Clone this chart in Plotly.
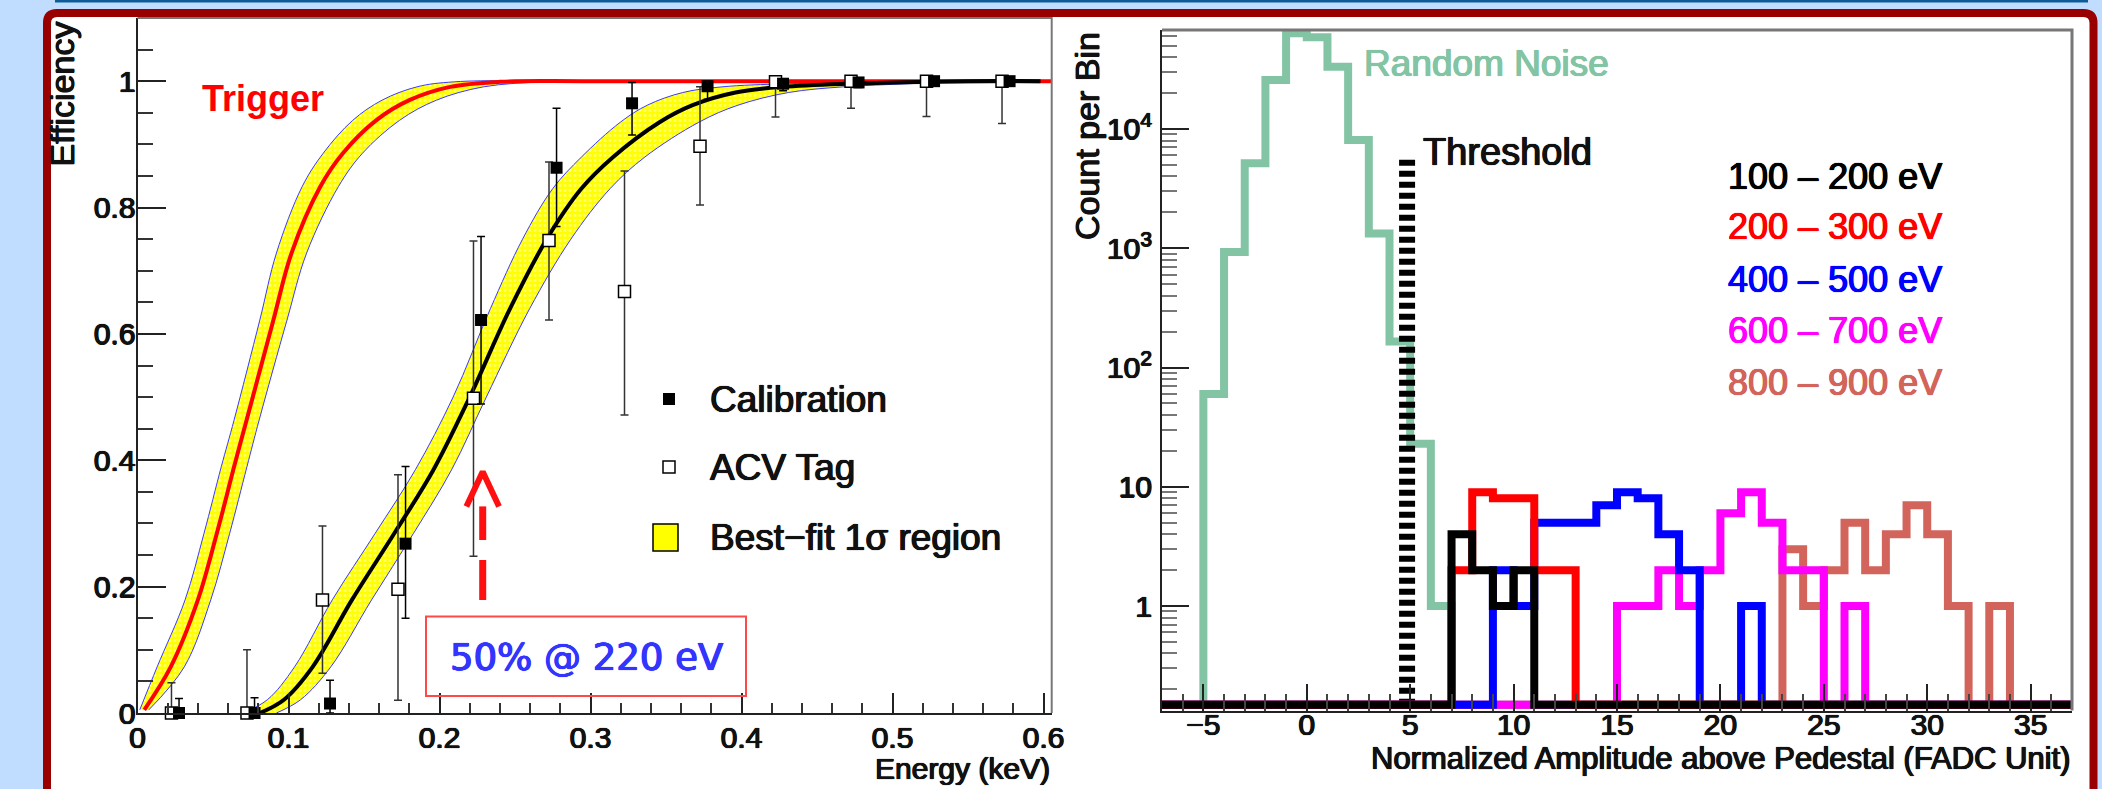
import plotly.graph_objects as go

W, H = 2102, 789


def fx(x):
    """pixel column -> paper fraction"""
    return x / W


def fy(y):
    """pixel row (from top) -> paper fraction"""
    return 1 - y / H


# ---------------- Efficiency panel data ----------------
cal_E = [0.0275, 0.0775, 0.1275, 0.1775, 0.2275, 0.2775, 0.3275, 0.3775, 0.4275, 0.4775, 0.5275, 0.5775]
cal_eff = [0.0, 0.0, 0.015, 0.268, 0.622, 0.863, 0.965, 0.992, 0.996, 0.998, 1.0, 1.0]
cal_hi = [0.023, 0.024, 0.052, 0.390, 0.754, 0.957, 0.998, 1.0, 1.0, 1.0, 1.0, 1.0]
cal_lo = [0.0, 0.0, 0.0, 0.150, 0.489, 0.770, 0.915, 0.9715, 0.985, 0.990, 0.995, 0.995]

acv_E = [0.0225, 0.0725, 0.1225, 0.1725, 0.2225, 0.2725, 0.3225, 0.3725, 0.4225, 0.4725, 0.5225, 0.5725]
acv_eff = [0.0, 0.0, 0.179, 0.196, 0.498, 0.748, 0.667, 0.897, 0.999, 1.0, 1.0, 1.0]
acv_hi = [0.048, 0.100, 0.296, 0.377, 0.747, 0.872, 0.858, 0.991, 1.0, 1.0, 1.0, 1.0]
acv_lo = [0.0, 0.0, 0.063, 0.020, 0.248, 0.622, 0.4715, 0.804, 0.9435, 0.957, 0.944, 0.933]

# trigger efficiency curve and its 1-sigma band (half width in energy)
trig_E = [0.0045, 0.022, 0.040, 0.0525, 0.064, 0.0723, 0.090, 0.102, 0.121, 0.136, 0.158, 0.180, 0.207, 0.240, 0.300, 0.605]
trig_eff = [0.005, 0.073, 0.179, 0.284, 0.390, 0.464, 0.622, 0.728, 0.833, 0.886, 0.938, 0.970, 0.991, 0.999, 1.0, 1.0]
trig_dE = [0.003, 0.009, 0.0085, 0.0085, 0.0085, 0.0083, 0.009, 0.010, 0.012, 0.013, 0.0155, 0.018, 0.022, 0.030, 0.0, 0.0]

# best-fit analysis efficiency curve (50% at 220 eV) and its 1-sigma band
fit_E = [0.081, 0.097, 0.116, 0.142, 0.170, 0.196, 0.220, 0.2467, 0.271, 0.294, 0.315, 0.3457, 0.3676, 0.396, 0.427, 0.471, 0.550, 0.598]
fit_eff = [0.0, 0.021, 0.073, 0.179, 0.284, 0.385, 0.500, 0.640, 0.750, 0.830, 0.880, 0.935, 0.962, 0.982, 0.991, 0.996, 1.0, 1.0]
fit_dE = [0.011, 0.011, 0.012, 0.013, 0.0127, 0.012, 0.011, 0.013, 0.016, 0.019, 0.021, 0.026, 0.030, 0.035, 0.040, 0.040, 0.0, 0.0]

thr50_E = 0.2286      # arrow marking the 50% point
thr50_tip = 0.382
thr50_tail = 0.179

# ---------------- Amplitude spectrum data ----------------
bin_lo = list(range(-7, 37))
bin_hi_edge = 37
noise = [0, 0, 60, 930, 5150, 25800, 63600, 58700, 33300, 8100, 1330, 165, 23, 1,
         0, 0, 0, 0, 0, 0, 0, 0, 0, 0, 0, 0, 0, 0, 0, 0, 0, 0, 0, 0, 0, 0, 0, 0, 0, 0, 0, 0, 0, 0]
e100_200 = [0, 0, 0, 0, 0, 0, 0, 0, 0, 0, 0, 0, 0, 0,
            4, 2, 1, 2, 0, 0, 0, 0, 0, 0, 0, 0, 0, 0, 0, 0, 0, 0, 0, 0, 0, 0, 0, 0, 0, 0, 0, 0, 0, 0]
e200_300 = [0, 0, 0, 0, 0, 0, 0, 0, 0, 0, 0, 0, 0, 0,
            2, 9, 8, 8, 2, 2, 0, 0, 0, 0, 0, 0, 0, 0, 0, 0, 0, 0, 0, 0, 0, 0, 0, 0, 0, 0, 0, 0, 0, 0]
e400_500 = [0, 0, 0, 0, 0, 0, 0, 0, 0, 0, 0, 0, 0, 0,
            0, 0, 2, 1, 5, 5, 5, 7, 9, 8, 4, 2, 0, 0, 1, 0, 0, 0, 0, 0, 0, 0, 0, 0, 0, 0, 0, 0, 0, 0]
e600_700 = [0, 0, 0, 0, 0, 0, 0, 0, 0, 0, 0, 0, 0, 0,
            0, 0, 0, 0, 0, 0, 0, 0, 1, 1, 2, 1, 2, 6, 9, 5, 2, 2, 0, 1, 0, 0, 0, 0, 0, 0, 0, 0, 0, 0]
e800_900 = [0, 0, 0, 0, 0, 0, 0, 0, 0, 0, 0, 0, 0, 0,
            0, 0, 0, 0, 0, 0, 0, 0, 0, 0, 0, 0, 0, 0, 0, 0, 3, 1, 2, 5, 2, 4, 7, 4, 1, 0, 1, 0, 0, 0]
threshold_x = 4.85
threshold_top = 6000
zero_floor = 0.149     # empty bins are drawn on the bottom of the log frame

FONT = "Liberation Sans"
INK = "#111111"
fig = go.Figure()

# ---- trigger band + curve ----
trig_left = [e - d for e, d in zip(trig_E, trig_dE)]
trig_right = [e + d for e, d in zip(trig_E, trig_dE)]
band_style = dict(fill="toself", fillcolor="#ffff00",
                  fillpattern=dict(shape=".", bgcolor="#ffff00", fgcolor="#ffffff", size=5, solidity=0.25),
                  line=dict(width=0), mode="lines", line_shape="spline", hoverinfo="skip",
                  showlegend=False, xaxis="x", yaxis="y")
fig.add_trace(go.Scatter(x=trig_left + trig_right[::-1], y=trig_eff + trig_eff[::-1], **band_style))
fit_left = [e - d for e, d in zip(fit_E, fit_dE)]
fit_right = [e + d for e, d in zip(fit_E, fit_dE)]
fig.add_trace(go.Scatter(x=fit_left + fit_right[::-1], y=fit_eff + fit_eff[::-1], **band_style))
for xs, ys in [(trig_left, trig_eff), (trig_right, trig_eff), (fit_left, fit_eff), (fit_right, fit_eff)]:
    fig.add_trace(go.Scatter(x=xs, y=ys, mode="lines", line=dict(color="#3a3aff", width=1, shape="spline"),
                             showlegend=False, hoverinfo="skip", xaxis="x", yaxis="y"))
fig.add_trace(go.Scatter(x=trig_E, y=trig_eff, mode="lines", line=dict(color="#ff0000", width=4, shape="spline"),
                         showlegend=False, xaxis="x", yaxis="y"))
fig.add_trace(go.Scatter(x=fit_E, y=fit_eff, mode="lines", line=dict(color="#000000", width=4, shape="spline"),
                         showlegend=False, xaxis="x", yaxis="y"))

# ---- data points ----
fig.add_trace(go.Scatter(
    x=acv_E, y=acv_eff, mode="markers", cliponaxis=False,
    marker=dict(symbol="square", size=12, color="white", line=dict(color="black", width=1.5)),
    error_y=dict(type="data", symmetric=False,
                 array=[h - v for h, v in zip(acv_hi, acv_eff)],
                 arrayminus=[v - l for v, l in zip(acv_eff, acv_lo)],
                 color="#333333", thickness=1.5, width=4),
    showlegend=False, xaxis="x", yaxis="y"))
fig.add_trace(go.Scatter(
    x=cal_E, y=cal_eff, mode="markers", cliponaxis=False,
    marker=dict(symbol="square", size=12, color="black"),
    error_y=dict(type="data", symmetric=False,
                 array=[h - v for h, v in zip(cal_hi, cal_eff)],
                 arrayminus=[v - l for v, l in zip(cal_eff, cal_lo)],
                 color="black", thickness=1.5, width=4),
    showlegend=False, xaxis="x", yaxis="y"))

# ---- 50% arrow (dashed shaft + open head) ----
arrow_red = "#ff1010"
head_w = 0.0108
head_h = 0.055
fig.add_trace(go.Scatter(x=[thr50_E, thr50_E], y=[thr50_tail, thr50_tip - head_h],
                         mode="lines", line=dict(color=arrow_red, width=7, dash="40px,20px"),
                         showlegend=False, hoverinfo="skip", xaxis="x", yaxis="y"))
fig.add_trace(go.Scatter(x=[thr50_E - head_w, thr50_E, thr50_E + head_w],
                         y=[thr50_tip - head_h, thr50_tip, thr50_tip - head_h],
                         mode="lines", line=dict(color=arrow_red, width=6),
                         showlegend=False, hoverinfo="skip", xaxis="x", yaxis="y"))

# ---------------- spectrum panel ----------------
edges = bin_lo + [bin_hi_edge]


def outline(counts):
    ys = [c if c > 0 else zero_floor for c in counts]
    return edges, ys + [ys[-1]]


NOISE_COL = "#82c4a4"
spectra = [
    (noise, NOISE_COL),
    (e800_900, "#d2645c"),
    (e600_700, "#ff00ff"),
    (e400_500, "#0000ff"),
    (e200_300, "#ff0000"),
    (e100_200, "#000000"),
]
for counts, col in spectra:
    xs, ys = outline(counts)
    fig.add_trace(go.Scatter(x=xs, y=ys, mode="lines", line=dict(color=col, width=8, shape="hv"),
                             showlegend=False, xaxis="x2", yaxis="y2"))
    if col == NOISE_COL:
        fig.add_trace(go.Scatter(x=[threshold_x, threshold_x], y=[zero_floor, threshold_top], mode="lines",
                                 line=dict(color="black", width=16, dash="6px,5px"),
                                 showlegend=False, xaxis="x2", yaxis="y2"))

# ---------------- axes ----------------
L_x0, L_x1, L_y0, L_y1 = 137.5, 1051.7, 18, 713
R_x0, R_x1, R_y0, R_y1 = 1162, 2072, 30, 710.5


def heavy(c):
    """text-shadow that thickens glyph strokes slightly"""
    return f"0.6px 0 0 {c}, -0.6px 0 0 {c}, 0 0.4px 0 {c}, 0 0 1px {c}"


tickfont = dict(family=FONT, size=30, color=INK, shadow=heavy(INK))

fig.update_layout(
    width=W, height=H, autosize=False,
    margin=dict(l=0, r=0, t=0, b=0, pad=0, autoexpand=False),
    paper_bgcolor="#c0dcff", plot_bgcolor="white",
    xaxis=dict(domain=[fx(L_x0), fx(L_x1)], range=[0, 0.6054], showgrid=False, zeroline=False,
               showline=True, linecolor="#222", linewidth=2, ticks="inside", ticklen=20, tickwidth=2,
               tickcolor="#222", tickvals=[0, 0.1, 0.2, 0.3, 0.4, 0.5, 0.6],
               ticktext=["0", "0.1", "0.2", "0.3", "0.4", "0.5", "0.6"],
               minor=dict(dtick=0.02, tick0=0, ticks="inside", ticklen=10, tickwidth=1.5, tickcolor="#333"),
               tickfont=tickfont, ticklabelstandoff=-3, anchor="y", automargin=False),
    yaxis=dict(domain=[fy(L_y1), fy(L_y0)], range=[0, 1.1], showgrid=False, zeroline=False,
               showline=True, linecolor="#222", linewidth=2, ticks="inside", ticklen=28, tickwidth=2,
               tickcolor="#222", tickvals=[0, 0.2, 0.4, 0.6, 0.8, 1.0],
               ticktext=["0", "0.2", "0.4", "0.6", "0.8", "1"],
               minor=dict(dtick=0.05, tick0=0, ticks="inside", ticklen=15, tickwidth=1.5, tickcolor="#333"),
               tickfont=tickfont, ticklabelstandoff=-6, anchor="x", automargin=False),
    xaxis2=dict(domain=[fx(R_x0), fx(R_x1)], range=[-7, 37], showgrid=False, zeroline=False,
                showline=True, linecolor="#222", linewidth=2, ticks="inside", ticklen=27, tickwidth=2,
                tickcolor="#222", tickvals=[-5, 0, 5, 10, 15, 20, 25, 30, 35],
                ticktext=["\u22125", "0", "5", "10", "15", "20", "25", "30", "35"],
                minor=dict(dtick=1, tick0=0, ticks="inside", ticklen=17, tickwidth=1.5, tickcolor="#444"),
                tickfont=tickfont, ticklabelstandoff=-14, anchor="y2", automargin=False),
    yaxis2=dict(domain=[fy(R_y1), fy(R_y0)], type="log", range=[-0.876, 4.830], showgrid=False,
                zeroline=False, showline=True, linecolor="#222", linewidth=2, ticks="inside", ticklen=27,
                tickwidth=2, tickcolor="#222", tickvals=[1, 10, 100, 1000, 10000],
                ticktext=["1", "10", "10<sup>2</sup>", "10<sup>3</sup>", "10<sup>4</sup>"],
                minor=dict(tickvals=[m * 10 ** k for k in range(-1, 5) for m in range(2, 10)],
                           ticks="inside", ticklen=15, tickwidth=1.5, tickcolor="#777"),
                tickfont=tickfont, ticklabelstandoff=2, anchor="x2", automargin=False),
)

# ---------------- frame, boxes, legend swatches ----------------
r = 10 / W
left, right, top, bot = fx(47), fx(2093.5), fy(13), fy(800)
rv = 10 / H
frame_path = (f"M {left},{bot} L {left},{top - rv} Q {left},{top} {left + r},{top} "
              f"L {right - r},{top} Q {right},{top} {right},{top - rv} L {right},{bot}")


def px_rect(x0, x1, y0, y1, **kw):
    return dict(type="rect", xref="paper", yref="paper", x0=fx(x0), x1=fx(x1), y0=fy(y1), y1=fy(y0), **kw)


shapes = [
    px_rect(55, 2088, -3, 2.5, fillcolor="#0d5c98", line=dict(width=0), layer="below"),
    dict(type="path", xref="paper", yref="paper", path=frame_path + " Z", fillcolor="white",
         line=dict(width=0), layer="below"),
    dict(type="path", xref="paper", yref="paper", path=frame_path, line=dict(color="#990000", width=8),
         layer="above"),
    # panel frames (top / right edges)
    dict(type="path", xref="paper", yref="paper",
         path=f"M {fx(L_x0)},{fy(L_y0)} L {fx(L_x1)},{fy(L_y0)} L {fx(L_x1)},{fy(L_y1)}",
         line=dict(color="#777777", width=2), layer="above"),
    dict(type="path", xref="paper", yref="paper",
         path=f"M {fx(R_x0)},{fy(R_y0)} L {fx(R_x1)},{fy(R_y0)} L {fx(R_x1)},{fy(R_y1)}",
         line=dict(color="#777777", width=3), layer="above"),
    # value box
    px_rect(426, 746, 616.5, 696, line=dict(color="#ff4848", width=2), fillcolor="rgba(0,0,0,0)", layer="above"),
    # legend swatches
    px_rect(663, 675, 393, 405, line=dict(width=0), fillcolor="#000000", layer="above"),
    px_rect(663, 675, 461, 473, line=dict(color="#000000", width=1.5), fillcolor="#ffffff", layer="above"),
    px_rect(653, 678, 524, 551, line=dict(color="#000000", width=1.5), fillcolor="#ffff00", layer="above"),
]
fig.update_layout(shapes=shapes)


def label(text, x, y, size, color=INK, xanchor="left", yanchor="middle", angle=0, bold=False,
          family=FONT, thick=True):
    if bold:
        text = f"<b>{text}</b>"
    font = dict(family=family, size=size, color=color)
    if thick:
        font["shadow"] = heavy(color)
    fig.add_annotation(text=text, x=fx(x), y=fy(y), xref="paper", yref="paper", showarrow=False,
                       xanchor=xanchor, yanchor=yanchor, textangle=angle, font=font)


label("Efficiency", 62, 20, 34, xanchor="center", yanchor="top", angle=-90)
label("Energy (keV)", 1052, 768, 30, xanchor="right")
label("Trigger", 200, 99, 36, color="#ff0000", bold=True, thick=False)
label("Calibration", 708, 399, 37)
label("ACV Tag", 708, 467, 37)
label("Best\u2212fit 1\u03c3 region", 708, 537, 37)
label("50% @ 220 eV", 586, 657, 37, color="#3434ff", xanchor="center", family="DejaVu Sans")

label("Count per Bin", 1087, 30, 34, xanchor="center", yanchor="top", angle=-90)
label("Normalized Amplitude above Pedestal (FADC Unit)", 2073, 758, 31, xanchor="right")
label("Random Noise", 1362, 64, 37, color=NOISE_COL)
label("Threshold", 1421, 152, 38)
legend_rows = [("100 \u2013 200 eV", "#000000", 176), ("200 \u2013 300 eV", "#ff0000", 227),
               ("400 \u2013 500 eV", "#0000ff", 279), ("600 \u2013 700 eV", "#ff00ff", 330),
               ("800 \u2013 900 eV", "#d2645c", 382)]
for txt, col, yy in legend_rows:
    label(txt, 1726, yy, 36, color=col)

fig.write_html("out.html")
